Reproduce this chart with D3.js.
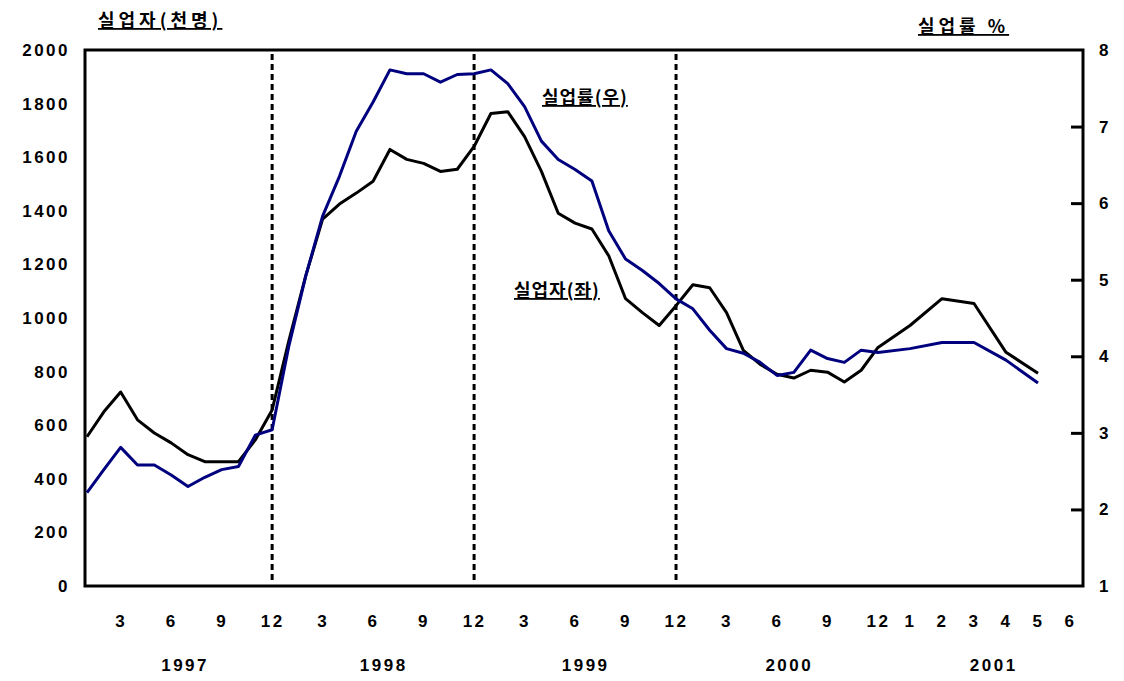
<!DOCTYPE html>
<html>
<head>
<meta charset="utf-8">
<script src="https://cdn.jsdelivr.net/npm/d3@7"></script>
<style>
  html, body { margin: 0; padding: 0; background: #fff; }
  svg { display: block; }
  .tick-label { font-family: "Liberation Sans", Arial, sans-serif; font-weight: bold; font-size: 17px; letter-spacing: 2.5px; fill: #000; }
  .kr { font-family: "Noto Sans CJK KR", sans-serif; font-weight: bold; font-size: 18px; fill: #000; }
</style>
</head>
<body>
<svg id="chart"></svg>
<script>
// month index: 0 = 1997.1 ... 47 = 2000.12, 48..52 = 2001.1..5
const MONTHS = d3.range(0, 53);

// unemployed persons (thousand) - left axis
const UNEMPLOYED = [
  557, 650, 724, 620, 571, 534, 490, 464, 464, 464, 545, 657,
  917, 1158, 1369, 1425, 1466, 1510, 1629, 1592, 1577, 1547, 1555, 1640,
  1763, 1770, 1677, 1547, 1391, 1354, 1332, 1232, 1072, 1020, 972, 1046,
  1124, 1113, 1020, 879, 827, 790, 776, 805, 798, 761, 805, 890,
  972, 1072, 1054, 872, 794
];

// unemployment rate (%) - right axis
const RATE = [
  2.22, 2.52, 2.81, 2.58, 2.58, 2.45, 2.30, 2.42, 2.52, 2.56, 2.97, 3.04,
  4.14, 5.05, 5.83, 6.35, 6.94, 7.32, 7.74, 7.69, 7.69, 7.58, 7.68, 7.69,
  7.74, 7.56, 7.26, 6.81, 6.57, 6.44, 6.29, 5.64, 5.27, 5.12, 4.95, 4.75,
  4.62, 4.34, 4.10, 4.04, 3.92, 3.75, 3.79, 4.08, 3.97, 3.92, 4.08, 4.05,
  4.10, 4.18, 4.18, 3.95, 3.65
];

const LEFT_TICKS  = [0, 200, 400, 600, 800, 1000, 1200, 1400, 1600, 1800, 2000];
const RIGHT_TICKS = [1, 2, 3, 4, 5, 6, 7, 8];

const MONTH_TICKS  = [2, 5, 8, 11, 14, 17, 20, 23, 26, 29, 32, 35, 38, 41, 44, 47, 48, 49, 50, 51, 52, 53];
const MONTH_LABELS = ["3","6","9","12","3","6","9","12","3","6","9","12","3","6","9","12","1","2","3","4","5","6"];
const YEAR_POS    = [5.8, 17.6, 29.6, 41.7, 50.6];
const YEAR_LABELS = ["1997", "1998", "1999", "2000", "2001"];
const YEAR_ENDS   = [11, 23, 35];

const W = 1124, H = 681;
const M = { left: 85, right: 1083, top: 50, bottom: 586 };

const svg = d3.select("#chart").attr("width", W).attr("height", H);

const x = d3.scaleLinear().domain([0, 47, 53]).range([87, 878, 1070]);
const yL = d3.scaleLinear().domain([0, 2000]).range([M.bottom, M.top]);
const yR = d3.scaleLinear().domain([1, 8]).range([M.bottom, M.top]);

// year separators
svg.append("g").selectAll("line")
  .data(YEAR_ENDS)
  .join("line")
    .attr("x1", d => x(d)).attr("x2", d => x(d))
    .attr("y1", M.top + 4).attr("y2", M.bottom - 6)
    .attr("stroke", "#000")
    .attr("stroke-width", 3)
    .attr("stroke-dasharray", "6,4");

// frame
svg.append("rect")
  .attr("x", M.left).attr("y", M.top)
  .attr("width", M.right - M.left).attr("height", M.bottom - M.top)
  .attr("fill", "none").attr("stroke", "#000").attr("stroke-width", 3);

// left axis labels
svg.append("g")
  .attr("transform", `translate(${M.left},0)`)
  .call(d3.axisLeft(yL).tickValues(LEFT_TICKS).tickSize(0).tickPadding(15).tickFormat(d3.format("d")))
  .call(ax => ax.select(".domain").remove())
  .selectAll("text").attr("class", "tick-label");

// right axis with inward ticks
svg.append("g")
  .attr("transform", `translate(${M.right},0)`)
  .call(d3.axisRight(yR).tickValues(RIGHT_TICKS).tickSizeInner(-12).tickSizeOuter(0)
    .tickPadding(16).tickFormat(d3.format("d")))
  .call(ax => ax.select(".domain").remove())
  .call(ax => ax.selectAll(".tick line").attr("stroke-width", 3)
    .attr("display", d => (d === 1 || d === 8) ? "none" : null))
  .selectAll("text").attr("class", "tick-label");

// month labels
svg.append("g")
  .attr("transform", `translate(0,${M.bottom + 26})`)
  .call(d3.axisBottom(x).tickValues(MONTH_TICKS).tickSize(0)
    .tickFormat((d, i) => MONTH_LABELS[i]))
  .call(ax => ax.select(".domain").remove())
  .selectAll("text").attr("class", "tick-label");

// year labels
svg.append("g")
  .attr("transform", `translate(0,${M.bottom + 70})`)
  .call(d3.axisBottom(x).tickValues(YEAR_POS).tickSize(0)
    .tickFormat((d, i) => YEAR_LABELS[i]))
  .call(ax => ax.select(".domain").remove())
  .selectAll("text").attr("class", "tick-label");

// lines
const lineL = d3.line().x(d => x(d)).y(d => yL(UNEMPLOYED[d]));
const lineR = d3.line().x(d => x(d)).y(d => yR(RATE[d]));

svg.append("path").datum(MONTHS)
  .attr("d", lineL).attr("fill", "none")
  .attr("stroke", "#000").attr("stroke-width", 3).attr("stroke-linejoin", "round");

svg.append("path").datum(MONTHS)
  .attr("d", lineR).attr("fill", "none")
  .attr("stroke", "#00007f").attr("stroke-width", 3).attr("stroke-linejoin", "round");

// titles
svg.append("text").attr("class", "kr")
  .attr("x", 98).attr("y", 27).attr("font-size", 20).attr("letter-spacing", 4)
  .attr("text-decoration", "underline").text("실업자(천명)");
svg.append("text").attr("class", "kr")
  .attr("x", 918).attr("y", 33).attr("font-size", 20).attr("letter-spacing", 4)
  .attr("text-decoration", "underline").text("실업률 %");

// series labels
svg.append("text").attr("class", "kr")
  .attr("x", 542).attr("y", 104).attr("letter-spacing", 1)
  .attr("text-decoration", "underline").text("실업률(우)");
svg.append("text").attr("class", "kr")
  .attr("x", 514).attr("y", 297).attr("letter-spacing", 1)
  .attr("text-decoration", "underline").text("실업자(좌)");
</script>
</body>
</html>
